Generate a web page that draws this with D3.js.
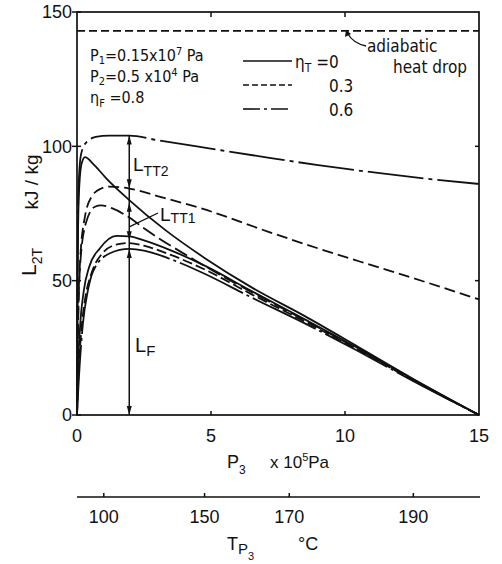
<!DOCTYPE html>
<meta charset="utf-8">
<script src="https://cdn.jsdelivr.net/npm/d3@7"></script>
<style>
  body { margin: 0; background: #fff; }
  text { font-family: "Liberation Sans", Arial, sans-serif; fill: #111; }
  .narrow { font-family: "Liberation Sans Narrow", "DejaVu Sans Condensed", "Liberation Sans", sans-serif; }
</style>
<div id="chart"></div>
<script>
// axis ticks
const xTicks = [0, 5, 10, 15];
const yTicks = [0, 50, 100, 150];
// saturation temperature scale (°C) under the P3 axis, and the P3 each tick sits at
const tempTicks = [100, 150, 170, 190];
const tempTickP3 = [1.0, 4.76, 7.92, 12.55];

// adiabatic heat drop (kJ/kg)
const adiabaticDrop = 143;

// curves: [P3 (x10^5 Pa), L2T (kJ/kg)]
const lTT2Eta06 = [[0,0],[0.02,50],[0.06,85],[0.15,97],[0.35,101.5],[0.7,103.5],[1.2,104],[1.95,104],[3,102.3],[4.7,99.6],[7,96],[9,93],[11.3,90],[13,88],[15,86]];
const lTT2Eta03 = [[0,0],[0.04,35],[0.12,58],[0.3,74],[0.56,81.5],[0.9,84.3],[1.2,85],[1.95,84.3],[3,81.5],[4.7,76.7],[7.2,68],[9,62],[11.3,54.8],[13,49.5],[15,43]];
const lTT1Eta0 = [[0,0],[0.02,50],[0.07,82],[0.17,93.5],[0.3,96],[0.6,93.5],[1.1,88],[1.95,80],[3.3,68.8],[4.8,58.2],[6.5,47.6],[8.5,36.8],[10.5,25.3],[12.5,13.7],[15,0]];
const lTT1Eta03 = [[0,0],[0.05,38],[0.15,60],[0.35,72],[0.67,77.5],[0.9,78],[1.3,77],[1.95,73.5],[2.5,69.5],[4.4,57.6],[6.5,45.8],[8.5,35.3],[10.5,24.5],[12.5,13.3],[15,0]];
const lFEta0 = [[0,0],[0.03,14],[0.11,32],[0.25,46],[0.45,55],[0.85,62],[1.48,66.7],[1.95,66.5],[2.5,65],[3.5,61.3],[4.8,55.4],[6.5,46.2],[8.5,35.6],[10.5,24.8],[12.5,13.5],[15,0]];
const lFEta03 = [[0,0],[0.04,12],[0.15,30],[0.3,43],[0.55,53],[0.93,60],[1.5,63.5],[1.95,64],[2.5,63],[3.5,59.6],[4.8,54],[6.5,45],[8.5,34.8],[10.5,24.2],[12.5,13.1],[15,0]];
const lFEta06 = [[0,0],[0.05,10],[0.22,34],[0.4,46],[0.6,53.5],[1.23,60.2],[1.95,61.8],[2.5,61.2],[3.5,58],[4.8,52.4],[6.5,43.8],[8.5,34.1],[10.5,23.7],[12.5,12.9],[15,0]];

// where the L arrows stand, and the heads on it [value, direction]
const arrowP3 = 1.95;
const arrowHeads = [[104, "up"], [84.4, "down"], [79, "up"], [65, "down"], [61.8, "up"], [0, "down"]];

const width = 502, height = 564;

const svg = d3.select("#chart")
    .append("svg")
    .attr("width", width)
    .attr("height", height);

const x = d3.scaleLinear().domain([0, 15]).range([77, 479]);
const y = d3.scaleLinear().domain([0, 150]).range([415, 12]);

// dash styles
const SOLID = null, DASH = "11,5", LONGDASH = "14,5", DASHDOT = "56,5,4,5", LDASHDOT = "70,4,3,4";

const series = [
    { data: lTT2Eta06, dash: DASHDOT },
    { data: lTT2Eta03, dash: DASH },
    { data: lTT1Eta0, dash: SOLID },
    { data: lTT1Eta03, dash: LONGDASH },
    { data: lFEta0, dash: SOLID },
    { data: lFEta03, dash: "10,4" },
    { data: lFEta06, dash: LDASHDOT }
];

const line = d3.line()
    .x(d => x(d[0]))
    .y(d => y(d[1]))
    .curve(d3.curveMonotoneX);

svg.append("g")
    .selectAll("path")
    .data(series)
    .join("path")
    .attr("d", d => line(d.data))
    .attr("fill", "none")
    .attr("stroke", "#111")
    .attr("stroke-width", 1.8)
    .attr("stroke-dasharray", d => d.dash);

// adiabatic heat drop line
svg.append("line")
    .attr("x1", x(0)).attr("x2", x(15))
    .attr("y1", y(adiabaticDrop)).attr("y2", y(adiabaticDrop))
    .attr("stroke", "#111")
    .attr("stroke-width", 1.8)
    .attr("stroke-dasharray", "8,4");

// frame
svg.append("rect")
    .attr("x", x(0)).attr("y", y(150))
    .attr("width", x(15) - x(0))
    .attr("height", y(0) - y(150))
    .attr("fill", "none")
    .attr("stroke", "#111")
    .attr("stroke-width", 1.7);

// Y axis ticks + labels
const yAxis = svg.append("g");
yAxis.selectAll("line")
    .data(yTicks)
    .join("line")
    .attr("x1", x(0) - 5).attr("x2", x(0) + 4)
    .attr("y1", d => y(d)).attr("y2", d => y(d))
    .attr("stroke", "#111").attr("stroke-width", 1.5);
yAxis.selectAll("text")
    .data(yTicks)
    .join("text")
    .attr("x", x(0) - 5)
    .attr("y", d => y(d))
    .attr("dy", "0.36em")
    .attr("text-anchor", "end")
    .style("font-size", "18px")
    .text(d => d);

// right side ticks
svg.append("g")
    .selectAll("line")
    .data([50, 100])
    .join("line")
    .attr("x1", x(15) - 4).attr("x2", x(15))
    .attr("y1", d => y(d)).attr("y2", d => y(d))
    .attr("stroke", "#111").attr("stroke-width", 1.5);

// X axis ticks (bottom and top) + labels
const xAxis = svg.append("g");
xAxis.selectAll("line.b")
    .data([5, 10])
    .join("line")
    .attr("class", "b")
    .attr("x1", d => x(d)).attr("x2", d => x(d))
    .attr("y1", y(0)).attr("y2", y(0) - 4)
    .attr("stroke", "#111").attr("stroke-width", 1.5);
xAxis.selectAll("line.t")
    .data([5, 10])
    .join("line")
    .attr("class", "t")
    .attr("x1", d => x(d)).attr("x2", d => x(d))
    .attr("y1", y(150)).attr("y2", y(150) + 5)
    .attr("stroke", "#111").attr("stroke-width", 1.5);
xAxis.selectAll("text")
    .data(xTicks)
    .join("text")
    .attr("x", d => x(d))
    .attr("y", 442)
    .attr("text-anchor", "middle")
    .style("font-size", "18px")
    .text(d => d);

// temperature axis
const tAxisY = 497;
const tAxis = svg.append("g");
tAxis.append("line")
    .attr("x1", x(0)).attr("x2", x(15) + 1)
    .attr("y1", tAxisY).attr("y2", tAxisY)
    .attr("stroke", "#111").attr("stroke-width", 1.5);
tAxis.selectAll("line.tick")
    .data(tempTickP3)
    .join("line")
    .attr("class", "tick")
    .attr("x1", d => x(d)).attr("x2", d => x(d))
    .attr("y1", tAxisY).attr("y2", tAxisY - 4)
    .attr("stroke", "#111").attr("stroke-width", 1.5);
tAxis.selectAll("text")
    .data(tempTicks)
    .join("text")
    .attr("x", (d, i) => x(tempTickP3[i]))
    .attr("y", 523)
    .attr("text-anchor", "middle")
    .style("font-size", "18px")
    .text(d => d);

// axis titles
const p3 = svg.append("text").attr("x", 227).attr("y", 468).style("font-size", "18px");
p3.append("tspan").text("P");
p3.append("tspan").attr("dy", 6).style("font-size", "12px").text("3");
const unitP = svg.append("text").attr("x", 270).attr("y", 468).style("font-size", "17px");
unitP.append("tspan").text("x 10");
unitP.append("tspan").attr("dy", -7).style("font-size", "11px").text("5");
unitP.append("tspan").attr("dy", 7).text("Pa");

const tp3 = svg.append("text").attr("x", 227).attr("y", 550).style("font-size", "18px");
tp3.append("tspan").text("T");
tp3.append("tspan").attr("dy", 4).style("font-size", "15px").text("P");
tp3.append("tspan").attr("dy", 6).style("font-size", "11px").text("3");
svg.append("text").attr("x", 298).attr("y", 550).style("font-size", "18px").text("°C");

// y title
const l2t = svg.append("text")
    .attr("transform", "translate(36,276) rotate(-90)")
    .style("font-size", "21px");
l2t.append("tspan").text("L");
l2t.append("tspan").attr("dy", 6).style("font-size", "14px").text("2T");
svg.append("text")
    .attr("transform", "translate(38,182) rotate(-90)")
    .attr("text-anchor", "middle")
    .style("font-size", "19px")
    .text("kJ / kg");

// conditions
const cond = svg.append("g").style("font-size", "16px");
const c1 = cond.append("text").attr("class", "narrow").attr("x", 90).attr("y", 61);
c1.append("tspan").text("P");
c1.append("tspan").attr("dy", 3).style("font-size", "11px").text("1");
c1.append("tspan").attr("dy", -3).text("=0.15x10");
c1.append("tspan").attr("dy", -6).style("font-size", "11px").text("7");
c1.append("tspan").attr("dy", 6).text(" Pa");
const c2 = cond.append("text").attr("class", "narrow").attr("x", 90).attr("y", 82);
c2.append("tspan").text("P");
c2.append("tspan").attr("dy", 3).style("font-size", "11px").text("2");
c2.append("tspan").attr("dy", -3).text("=0.5 x10");
c2.append("tspan").attr("dy", -6).style("font-size", "11px").text("4");
c2.append("tspan").attr("dy", 6).text(" Pa");
const c3 = cond.append("text").attr("class", "narrow").attr("x", 90).attr("y", 103);
c3.append("tspan").text("η");
c3.append("tspan").attr("dy", 4).style("font-size", "11px").text("F");
c3.append("tspan").attr("dy", -4).text(" =0.8");

// legend
const legendDash = [SOLID, "6,3", "17,4,3,4"];
const legendLabels = ["=0", "0.3", "0.6"];
const legend = svg.append("g");
legendDash.forEach((dash, i) => {
    const ly = 61 + i * 24;
    legend.append("line")
        .attr("x1", 243).attr("x2", 292)
        .attr("y1", ly).attr("y2", ly)
        .attr("stroke", "#111").attr("stroke-width", 1.6)
        .attr("stroke-dasharray", dash);
    if (i === 0) {
        const t = legend.append("text").attr("class", "narrow").attr("x", 295).attr("y", ly + 7).style("font-size", "17px");
        t.append("tspan").text("η");
        t.append("tspan").attr("dy", 4).style("font-size", "12px").text("T");
        t.append("tspan").attr("dy", -4).text(" " + legendLabels[i]);
    } else {
        legend.append("text").attr("class", "narrow").attr("x", 329).attr("y", ly + 7)
            .style("font-size", "17px").text(legendLabels[i]);
    }
});

// adiabatic heat drop note
svg.append("text").attr("class", "narrow").attr("x", 367).attr("y", 52).style("font-size", "17px").text("adiabatic");
svg.append("text").attr("class", "narrow").attr("x", 393).attr("y", 73).style("font-size", "17px").text("heat drop");
svg.append("path")
    .attr("d", "M366,46 Q353,43 348,34")
    .attr("fill", "none").attr("stroke", "#111").attr("stroke-width", 1.3);
svg.append("path")
    .attr("d", "M346,30 L345,37 L351,34 Z")
    .attr("fill", "#111");

// L arrows
const ax = x(arrowP3);
svg.append("line")
    .attr("x1", ax).attr("x2", ax)
    .attr("y1", y(0)).attr("y2", y(104))
    .attr("stroke", "#111").attr("stroke-width", 1.5);
svg.append("g")
    .selectAll("path")
    .data(arrowHeads)
    .join("path")
    .attr("d", d => {
        const py = y(d[0]);
        return d[1] === "up"
            ? `M${ax},${py} L${ax - 2.5},${py + 9} L${ax + 2.5},${py + 9} Z`
            : `M${ax},${py} L${ax - 2.5},${py - 9} L${ax + 2.5},${py - 9} Z`;
    })
    .attr("fill", "#111");

// L labels
const ltt2 = svg.append("text").attr("x", 133).attr("y", 171).style("font-size", "19px");
ltt2.append("tspan").text("L");
ltt2.append("tspan").attr("dy", 5).style("font-size", "14px").text("TT2");
const ltt1 = svg.append("text").attr("x", 160).attr("y", 221).style("font-size", "19px");
ltt1.append("tspan").text("L");
ltt1.append("tspan").attr("dy", 2).style("font-size", "14px").text("TT1");
svg.append("line")
    .attr("x1", ax).attr("y1", y(70))
    .attr("x2", 158).attr("y2", 213)
    .attr("stroke", "#111").attr("stroke-width", 1.3);
const lf = svg.append("text").attr("x", 135).attr("y", 352).style("font-size", "20px");
lf.append("tspan").text("L");
lf.append("tspan").attr("dy", 4).style("font-size", "15px").text("F");
</script>
